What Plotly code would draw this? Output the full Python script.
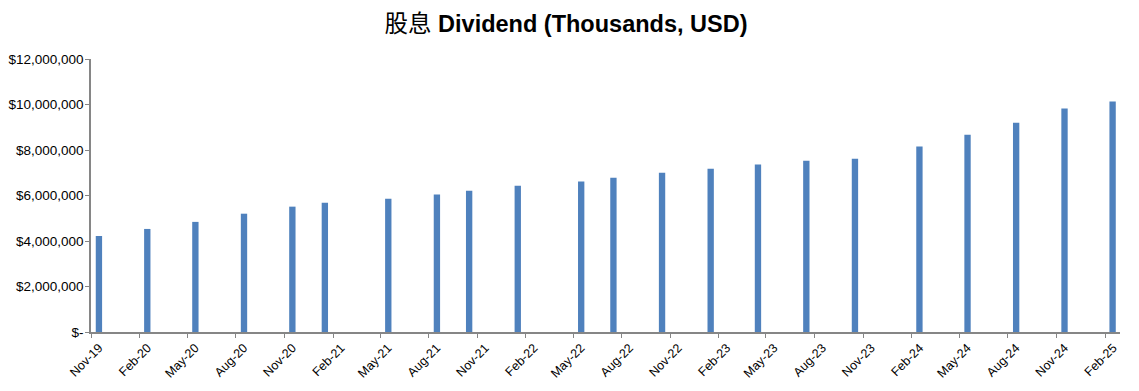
import plotly.graph_objects as go

# Data
months = ["2019-11", "2020-02", "2020-05", "2020-08", "2020-11", "2021-01", "2021-05",
          "2021-08", "2021-10", "2022-01", "2022-05", "2022-07", "2022-10", "2023-01",
          "2023-04", "2023-07", "2023-10", "2024-02", "2024-05", "2024-08", "2024-11",
          "2025-02"]
dividend = [4220000, 4530000, 4840000, 5200000, 5510000, 5680000, 5860000,
            6040000, 6210000, 6430000, 6610000, 6780000, 7000000, 7180000,
            7360000, 7530000, 7620000, 8150000, 8670000, 9200000, 9820000,
            10130000]

x_tick_dates = ["2019-11-01", "2020-02-01", "2020-05-01", "2020-08-01", "2020-11-01",
                "2021-02-01", "2021-05-01", "2021-08-01", "2021-11-01", "2022-02-01",
                "2022-05-01", "2022-08-01", "2022-11-01", "2023-02-01", "2023-05-01",
                "2023-08-01", "2023-11-01", "2024-02-01", "2024-05-01", "2024-08-01",
                "2024-11-01", "2025-02-01"]
x_tick_labels = ["Nov-19", "Feb-20", "May-20", "Aug-20", "Nov-20", "Feb-21", "May-21",
                 "Aug-21", "Nov-21", "Feb-22", "May-22", "Aug-22", "Nov-22", "Feb-23",
                 "May-23", "Aug-23", "Nov-23", "Feb-24", "May-24", "Aug-24", "Nov-24",
                 "Feb-25"]
y_tick_vals = [0, 2000000, 4000000, 6000000, 8000000, 10000000, 12000000]
y_tick_labels = ["$-", "$2,000,000", "$4,000,000", "$6,000,000", "$8,000,000",
                 "$10,000,000", "$12,000,000"]

AXIS = "#868686"
FONT = "Liberation Sans, Noto Sans CJK SC, sans-serif"

fig = go.Figure(go.Bar(
    x=[m + "-01" for m in months],
    y=dividend,
    xperiod="M1",
    xperiodalignment="middle",
    width=12 * 86400000,
    marker=dict(color="#4F81BD", line=dict(width=0)),
))

# page body has an 8px default margin, so the figure is sized/offset accordingly
fig.update_layout(
    width=1131, height=383,
    margin=dict(l=83, r=19, t=51, b=59, autoexpand=False),
    paper_bgcolor="white", plot_bgcolor="white",
    showlegend=False,
    font=dict(family=FONT, color="#000000", size=13.5),
    title=dict(
        text="<span style='font-weight:normal'>股息</span> <b>Dividend (Thousands, USD)</b>",
        x=0.4934, xanchor="center", yref="container", y=1 - 8 / 383, yanchor="top",
        font=dict(family=FONT, size=23.5, color="#000000"),
    ),
)

fig.update_xaxes(
    type="date",
    range=["2019-11-01", "2025-03-01"],
    tickmode="array", tickvals=x_tick_dates, ticktext=x_tick_labels,
    tickangle=-45, ticks="outside", ticklen=4, tickcolor=AXIS,
    showline=True, linecolor=AXIS, linewidth=1.5,
    showgrid=False, zeroline=False, automargin=False,
    ticklabelshift=8, ticklabelstandoff=-2,
    tickfont=dict(family=FONT, size=12.5, color="#000000"),
)
fig.update_yaxes(
    range=[0, 12000000],
    tickmode="array", tickvals=y_tick_vals, ticktext=y_tick_labels,
    ticks="outside", ticklen=4, tickcolor=AXIS,
    showline=True, linecolor=AXIS, linewidth=1.5,
    showgrid=False, zeroline=False, automargin=False,
    ticklabelstandoff=-1,
    tickfont=dict(family=FONT, size=13.5, color="#000000"),
)

fig.write_html("out.html")
